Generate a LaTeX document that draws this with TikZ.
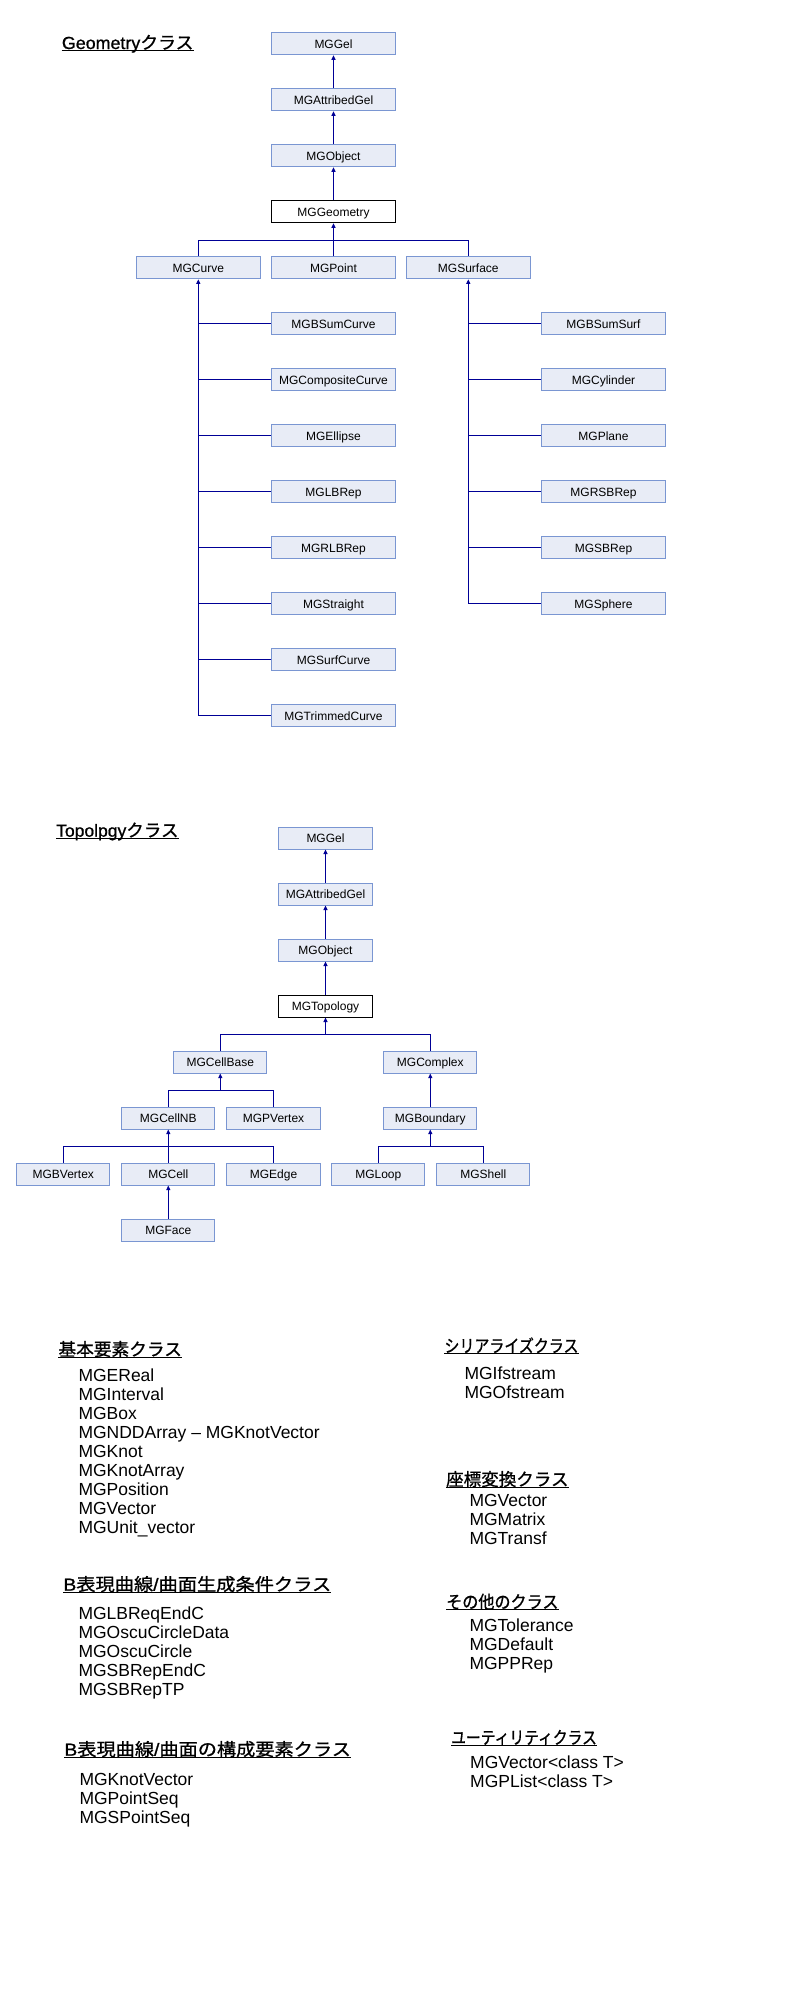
\documentclass[tikz,border=0pt]{standalone}
\usepackage{fontspec}
\usepackage{graphicx}
\setmainfont{Liberation Sans}
\newfontfamily\jp[FakeBold=0.9]{Noto Sans CJK JP}
\newfontfamily\hdlat[FakeBold=0.9]{Liberation Sans}
\usetikzlibrary{arrows.meta}
\definecolor{edgecol}{RGB}{0,0,150}
\definecolor{boxborder}{RGB}{122,150,210}
\definecolor{boxfill}{RGB}{232,236,246}
\newcommand{\boxfont}{\fontsize{12}{14}\selectfont}
\newcommand{\hdfont}{\fontsize{17.5}{21}\selectfont\hdlat}
\newcommand{\itemfont}{\fontsize{17.5}{21}\selectfont}
\begin{document}
\begin{tikzpicture}[x=1pt,y=-1pt,
  cls/.style={draw=boxborder, fill=boxfill, line width=1pt, minimum width=123.4pt,
    minimum height=22pt, inner sep=0pt, text height=8.6pt, text depth=0pt, font=\boxfont},
  tcls/.style={cls, minimum width=93.3pt},
  rootbox/.style={draw=black, fill=white},
  edge/.style={draw=edgecol, line width=1pt},
  arr/.style={edge, -{Triangle[width=4pt,length=4.5pt]}},
  hd/.style={inner sep=0pt, anchor=base west, font=\hdfont},
  ul/.style={draw=black, line width=1pt},
  item/.style={inner sep=0pt, anchor=base west, font=\itemfont}]
\fill[white] (0,0) rectangle (800,2000);
\useasboundingbox (0,0) rectangle (800,2000);

% ---------------- Geometry ----------------
\node[hd] (hGeo) at (61.7,49) {\resizebox{131.6pt}{\height}{Geometry{\jp クラス}}};
\draw[ul] ([yshift=-1.5pt]hGeo.base west) -- ([yshift=-1.5pt]hGeo.base east);

\node[cls] (gGel) at (333.5,43.8) {MGGel};
\node[cls] (gAttr) at (333.5,99.8) {MGAttribedGel};
\node[cls] (gObject) at (333.5,155.8) {MGObject};
\node[cls, rootbox] (gGeometry) at (333.5,211.8) {MGGeometry};
\node[cls] (gCurve) at (198.3,267.8) {MGCurve};
\node[cls] (gPoint) at (333.5,267.8) {MGPoint};
\node[cls] (gSurface) at (468.3,267.8) {MGSurface};

\node[cls] (gBSumCurve) at (333.5,323.8) {MGBSumCurve};
\node[cls] (gCompositeCurve) at (333.5,379.8) {MGCompositeCurve};
\node[cls] (gEllipse) at (333.5,435.8) {MGEllipse};
\node[cls] (gLBRep) at (333.5,491.8) {MGLBRep};
\node[cls] (gRLBRep) at (333.5,547.8) {MGRLBRep};
\node[cls] (gStraight) at (333.5,603.8) {MGStraight};
\node[cls] (gSurfCurve) at (333.5,659.8) {MGSurfCurve};
\node[cls] (gTrimmedCurve) at (333.5,715.8) {MGTrimmedCurve};

\node[cls] (gBSumSurf) at (603.5,323.8) {MGBSumSurf};
\node[cls] (gCylinder) at (603.5,379.8) {MGCylinder};
\node[cls] (gPlane) at (603.5,435.8) {MGPlane};
\node[cls] (gRSBRep) at (603.5,491.8) {MGRSBRep};
\node[cls] (gSBRep) at (603.5,547.8) {MGSBRep};
\node[cls] (gSphere) at (603.5,603.8) {MGSphere};

\draw[arr] (gAttr.north) -- (gGel.south);
\draw[arr] (gObject.north) -- (gAttr.south);
\draw[arr] (gGeometry.north) -- (gObject.south);
\coordinate (gBar) at (333.5,240.3);
\draw[edge] (gCurve.north) |- (gBar) -| (gSurface.north);
\draw[arr] (gPoint.north) -- (gGeometry.south);

\draw[arr] (gCurve.south |- gTrimmedCurve.west) -- (gCurve.south);
\foreach \n in {gBSumCurve,gCompositeCurve,gEllipse,gLBRep,gRLBRep,gStraight,gSurfCurve,gTrimmedCurve}
  \draw[edge] (gCurve.south |- \n.west) -- (\n.west);
\draw[arr] (gSurface.south |- gSphere.west) -- (gSurface.south);
\foreach \n in {gBSumSurf,gCylinder,gPlane,gRSBRep,gSBRep,gSphere}
  \draw[edge] (gSurface.south |- \n.west) -- (\n.west);

% ---------------- Topology ----------------
\node[hd] (hTop) at (56,836.7) {\resizebox{122.3pt}{\height}{Topolpgy{\jp クラス}}};
\draw[ul] ([yshift=-1.5pt]hTop.base west) -- ([yshift=-1.5pt]hTop.base east);

\node[tcls] (tGel) at (325.5,838) {MGGel};
\node[tcls] (tAttr) at (325.5,894) {MGAttribedGel};
\node[tcls] (tObject) at (325.5,950) {MGObject};
\node[tcls, rootbox] (tTopology) at (325.5,1006) {MGTopology};
\node[tcls] (tCellBase) at (220.3,1062) {MGCellBase};
\node[tcls] (tComplex) at (430.3,1062) {MGComplex};
\node[tcls] (tCellNB) at (168.3,1118) {MGCellNB};
\node[tcls] (tPVertex) at (273.5,1118) {MGPVertex};
\node[tcls] (tBoundary) at (430.3,1118) {MGBoundary};
\node[tcls] (tBVertex) at (63.3,1174) {MGBVertex};
\node[tcls] (tCell) at (168.3,1174) {MGCell};
\node[tcls] (tEdge) at (273.5,1174) {MGEdge};
\node[tcls] (tLoop) at (378.3,1174) {MGLoop};
\node[tcls] (tShell) at (483.3,1174) {MGShell};
\node[tcls] (tFace) at (168.3,1230) {MGFace};

\draw[arr] (tAttr.north) -- (tGel.south);
\draw[arr] (tObject.north) -- (tAttr.south);
\draw[arr] (tTopology.north) -- (tObject.south);
\coordinate (tBar1) at (325.5,1034.3);
\draw[edge] (tCellBase.north) |- (tBar1) -| (tComplex.north);
\draw[arr] (tBar1) -- (tTopology.south);
\coordinate (tBar2) at (220.3,1090.3);
\draw[edge] (tCellNB.north) |- (tBar2) -| (tPVertex.north);
\draw[arr] (tBar2) -- (tCellBase.south);
\draw[arr] (tBoundary.north) -- (tComplex.south);
\coordinate (tBar3) at (168.3,1146.3);
\draw[edge] (tBVertex.north) |- (tBar3) -| (tEdge.north);
\draw[arr] (tCell.north) -- (tCellNB.south);
\coordinate (tBar4) at (430.3,1146.3);
\draw[edge] (tLoop.north) |- (tBar4) -| (tShell.north);
\draw[arr] (tBar4) -- (tBoundary.south);
\draw[arr] (tFace.north) -- (tCell.south);

% ---------------- Lists, left ----------------
\node[hd] (hBasic) at (58.3,1355.7) {\resizebox{123.4pt}{\height}{\jp 基本要素クラス}};
\draw[ul] ([yshift=-1.5pt]hBasic.base west) -- ([yshift=-1.5pt]hBasic.base east);
\node[item] (b1) at (78.3,1381) {MGEReal};
\node[item] (b2) at (78.3,1400) {MGInterval};
\node[item] (b3) at (78.3,1419) {MGBox};
\node[item] (b4) at (78.3,1438) {MGNDDArray – MGKnotVector};
\node[item] (b5) at (78.3,1457) {MGKnot};
\node[item] (b6) at (78.3,1476) {MGKnotArray};
\node[item] (b7) at (78.3,1495) {MGPosition};
\node[item] (b8) at (78.3,1514) {MGVector};
\node[item] (b9) at (78.3,1533) {MGUnit\_vector};

\node[hd] (hCond) at (63.3,1590.7) {\resizebox{267.7pt}{\height}{B{\jp 表現曲線}/{\jp 曲面生成条件クラス}}};
\draw[ul] ([yshift=-1.5pt]hCond.base west) -- ([yshift=-1.5pt]hCond.base east);
\node[item] (c1) at (78.3,1619) {MGLBReqEndC};
\node[item] (c2) at (78.3,1638) {MGOscuCircleData};
\node[item] (c3) at (78.3,1657) {MGOscuCircle};
\node[item] (c4) at (78.3,1676) {MGSBRepEndC};
\node[item] (c5) at (78.3,1695) {MGSBRepTP};

\node[hd] (hElem) at (64.3,1755.7) {\resizebox{286.4pt}{\height}{B{\jp 表現曲線}/{\jp 曲面の構成要素クラス}}};
\draw[ul] ([yshift=-1.5pt]hElem.base west) -- ([yshift=-1.5pt]hElem.base east);
\node[item] (e1) at (79.3,1785.5) {MGKnotVector};
\node[item] (e2) at (79.3,1804.5) {MGPointSeq};
\node[item] (e3) at (79.3,1823.5) {MGSPointSeq};

% ---------------- Lists, right ----------------
\node[hd] (hSer) at (444.3,1352.3) {\resizebox{134pt}{\height}{\jp シリアライズクラス}};
\draw[ul] ([yshift=-1.5pt]hSer.base west) -- ([yshift=-1.5pt]hSer.base east);
\node[item] (s1) at (464.3,1379) {MGIfstream};
\node[item] (s2) at (464.3,1398) {MGOfstream};

\node[hd] (hTrans) at (446,1485.7) {\resizebox{122.3pt}{\height}{\jp 座標変換クラス}};
\draw[ul] ([yshift=-1.5pt]hTrans.base west) -- ([yshift=-1.5pt]hTrans.base east);
\node[item] (x1) at (469.3,1506) {MGVector};
\node[item] (x2) at (469.3,1525) {MGMatrix};
\node[item] (x3) at (469.3,1544) {MGTransf};

\node[hd] (hOther) at (446,1608.3) {\resizebox{112.3pt}{\height}{\jp その他のクラス}};
\draw[ul] ([yshift=-1.5pt]hOther.base west) -- ([yshift=-1.5pt]hOther.base east);
\node[item] (o1) at (469.3,1631.5) {MGTolerance};
\node[item] (o2) at (469.3,1650.5) {MGDefault};
\node[item] (o3) at (469.3,1669.5) {MGPPRep};

\node[hd] (hUtil) at (451,1744) {\resizebox{145.7pt}{\height}{\jp ユーティリティクラス}};
\draw[ul] ([yshift=-1.5pt]hUtil.base west) -- ([yshift=-1.5pt]hUtil.base east);
\node[item] (u1) at (470,1768.3) {MGVector<class T>};
\node[item] (u2) at (470,1787.3) {MGPList<class T>};
\end{tikzpicture}
\end{document}
